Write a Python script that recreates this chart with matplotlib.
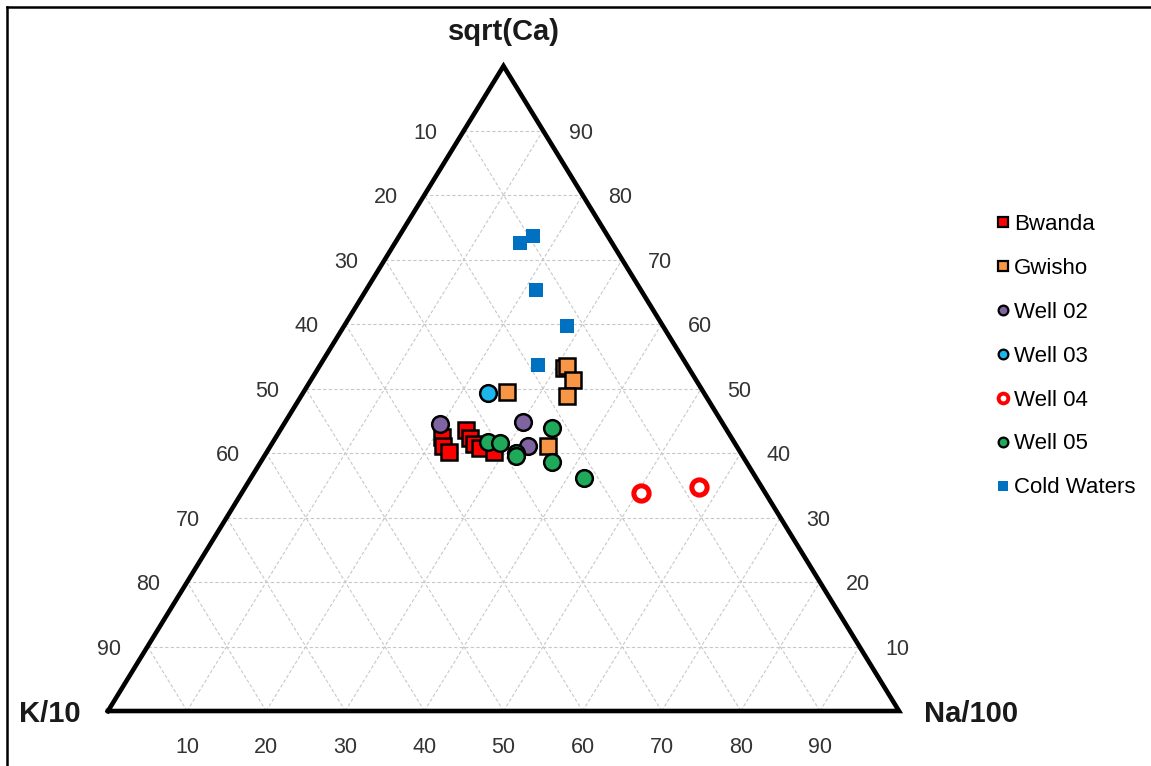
import matplotlib.pyplot as plt
from matplotlib.lines import Line2D

plt.rcParams['font.family'] = ['Liberation Sans', 'DejaVu Sans']

# Ternary compositions in percent (Ca = sqrt(Ca) share, Na = Na/100 share, K = rest)
bwanda_na = [21.0, 21.8, 23.0, 23.5, 24.6, 25.6, 26.6, 28.7]
bwanda_ca = [42.5, 41.1, 40.2, 43.6, 42.3, 41.4, 40.8, 40.2]

gwisho_na = [25.7, 31.1, 31.3, 33.1, 33.6, 35.1]
gwisho_ca = [49.5, 53.2, 53.5, 51.3, 48.8, 41.1]

well02_na = [19.7, 30.1, 32.6]
well02_ca = [44.5, 44.8, 41.1]

well03_na = [23.4]
well03_ca = [49.3]

well04_na = [50.5, 57.4]
well04_ca = [33.8, 34.7]

well05_na = [27.2, 28.8, 31.6, 31.8, 34.2, 36.8, 42.1]
well05_ca = [41.7, 41.6, 40.0, 39.5, 43.9, 38.6, 36.1]

cold_na = [15.8, 16.9, 21.4, 28.2, 27.5]
cold_ca = [72.6, 73.6, 65.3, 59.7, 53.6]

ticks = [10, 20, 30, 40, 50, 60, 70, 80, 90]


def to_xy(na, ca):
    x = [n + c / 2 for n, c in zip(na, ca)]
    return x, list(ca)


fig = plt.figure(figsize=(11.51, 7.66), dpi=100)
ax = fig.add_axes([108 / 1151, 55 / 766, 791 / 1151, 645 / 766])
ax.set_xlim(0, 100)
ax.set_ylim(0, 100)
ax.axis('off')

# dashed grid
gkw = dict(color='#c8c8c8', linestyle=(0, (3, 2)), linewidth=0.8, zorder=1)
for t in ticks:
    ax.plot([t / 2, 100 - t / 2], [t, t], **gkw)              # constant Ca
    ax.plot([t, t + (100 - t) / 2], [0, 100 - t], **gkw)      # constant Na
    ax.plot([100 - t, (100 - t) / 2], [0, 100 - t], **gkw)    # constant K

# triangle outline
ax.plot([0, 100, 50, 0], [0, 0, 100, 0], color='black', linewidth=3.3,
        solid_joinstyle='miter', zorder=2, clip_on=False)

# tick labels
tfs = 15.5
tcol = '#333333'
for t in ticks:
    ax.text(t, -5.6, str(t), ha='center', va='center', fontsize=tfs, color=tcol)
    ax.text((100 - t) / 2 - 4.9, 100 - t - 0.4, str(t), ha='center', va='center',
            fontsize=tfs, color=tcol)
    ax.text(100 - t / 2 + 4.8, t - 0.4, str(t), ha='center', va='center',
            fontsize=tfs, color=tcol)

# vertex labels
lkw = dict(ha='center', va='center', fontsize=21, fontweight='bold', color='#1a1a1a')
ax.text(50, 105.2, 'sqrt(Ca)', **lkw)
ax.text(-7.3, -0.5, 'K/10', **lkw)
ax.text(109.1, -0.5, 'Na/100', **lkw)

series = [
    ('Bwanda', bwanda_na, bwanda_ca, dict(marker='s', ms=11.5, mfc='#ff0000', mec='black', mew=1.8)),
    ('Gwisho', gwisho_na, gwisho_ca, dict(marker='s', ms=11.5, mfc='#f79646', mec='black', mew=1.8)),
    ('Well 02', well02_na, well02_ca, dict(marker='o', ms=12, mfc='#8064a2', mec='black', mew=1.8)),
    ('Well 03', well03_na, well03_ca, dict(marker='o', ms=12, mfc='#1cb5ec', mec='black', mew=1.8)),
    ('Well 04', well04_na, well04_ca, dict(marker='o', ms=11, mfc='white', mec='#ff0000', mew=3.6)),
    ('Well 05', well05_na, well05_ca, dict(marker='o', ms=12, mfc='#1fa95b', mec='black', mew=1.8)),
    ('Cold Waters', cold_na, cold_ca, dict(marker='s', ms=10, mfc='#0070c0', mec='#0070c0', mew=0)),
]

handles = []
for name, na, ca, style in series:
    x, y = to_xy(na, ca)
    ax.plot(x, y, linestyle='none', zorder=3, clip_on=False, **style)
    small = dict(style)
    if name == 'Well 04':
        small.update(ms=7, mew=2.8)
    elif name == 'Cold Waters':
        small.update(ms=7.5)
    else:
        small.update(ms=7, mew=1.6)
    handles.append(Line2D([], [], linestyle='none', label=name, **small))

fig.legend(handles=handles, loc='upper left', bbox_to_anchor=(996 / 1151, 1 - 214 / 766),
           frameon=False, fontsize=16, labelspacing=1.03, handlelength=0.6,
           handletextpad=0.2, borderpad=0, borderaxespad=0)

# outer frame (left and top edges)
fig.add_artist(Line2D([7 / 1151, 7 / 1151], [0, 1 - 7 / 766], color='black', linewidth=1.8))
fig.add_artist(Line2D([7 / 1151, 1], [1 - 7 / 766, 1 - 7 / 766], color='black', linewidth=1.8))

fig.savefig('out.png', dpi=100)
